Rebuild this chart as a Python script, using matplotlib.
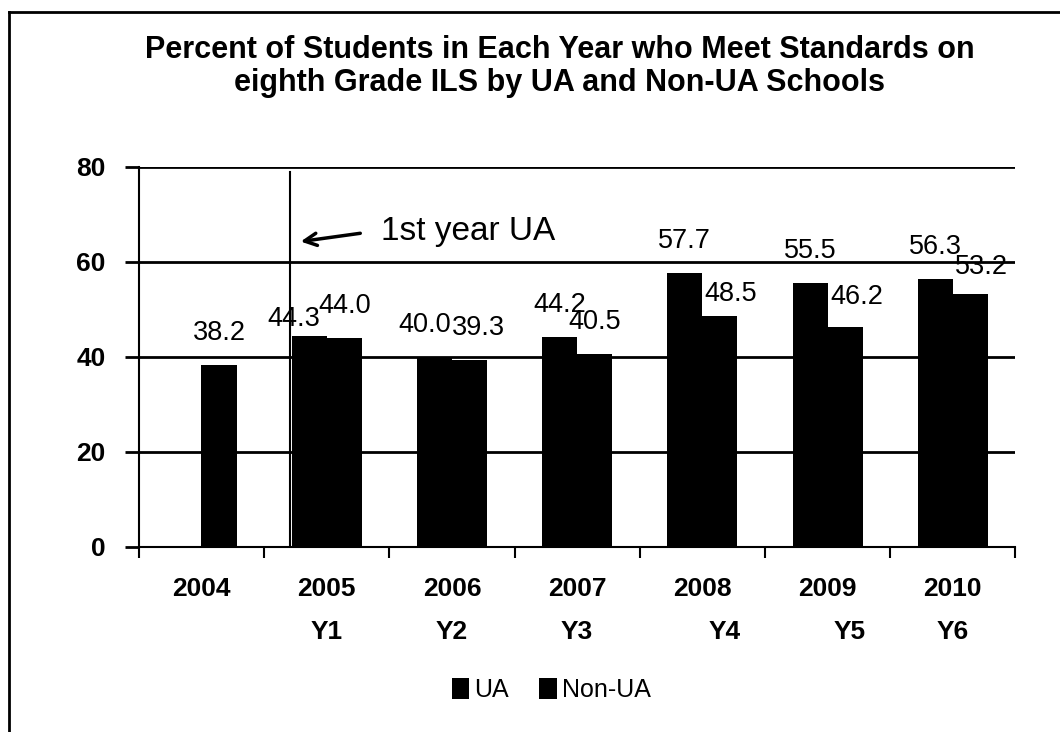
import numpy as np
import matplotlib
matplotlib.use("Agg")
import matplotlib.pyplot as plt
from matplotlib.patches import Patch
from matplotlib.lines import Line2D
import matplotlib.transforms as mtransforms

plt.rcParams['font.family'] = ['Liberation Sans', 'DejaVu Sans']

#------------------------------------ chart data
years = ["2004", "2005", "2006", "2007", "2008", "2009", "2010"]
ylabels = ["", "Y1", "Y2", "Y3", "Y4", "Y5", "Y6"]
ua = [np.nan, 44.3, 40.0, 44.2, 57.7, 55.5, 56.3]
non_ua = [38.2, 44.0, 39.3, 40.5, 48.5, 46.2, 53.2]

#------------------------------------ label nudges (px), Excel-ish overlap
ua_nudge = {1: (-15, -15), 2: (-10, 0)}
non_nudge = {2: (9, 0), 4: (11, -10), 5: (12, -2), 6: (11, -5)}
ylab_nudge = {4: 22, 5: 22}

fig = plt.figure(figsize=(10.6, 7.32), dpi=100)
ax = fig.add_axes([0.131, 0.253, 0.827, 0.519])

xpos = np.arange(len(years))
bw = 0.28
ax.bar(xpos - bw/2, ua, bw, color="black", zorder=3)
ax.bar(xpos + bw/2, non_ua, bw, color="black", zorder=3)

ax.set_xlim(-0.5, len(years) - 0.5)
ax.set_ylim(0, 80)
ax.set_yticks([0, 20, 40, 60, 80])
ax.yaxis.grid(True, color="black", linewidth=2, zorder=1)
ax.set_axisbelow(True)

for s in ["top", "right"]:
    ax.spines[s].set_visible(False)
ax.spines["left"].set_linewidth(1.5)
ax.spines["bottom"].set_linewidth(1.5)

ax.set_xticks(xpos)
ax.set_xticklabels(years, fontsize=19, fontweight="bold")
ax.set_xticks(np.arange(-0.5, len(years)), minor=True)
ax.tick_params(axis="x", which="major", length=0, pad=22)
ax.tick_params(axis="x", which="minor", length=8, width=1.5, direction="out")
ax.tick_params(axis="y", length=10, width=2, pad=14, labelsize=19)
for t in ax.get_yticklabels():
    t.set_fontweight("bold")

# second row of category labels
trans = mtransforms.blended_transform_factory(ax.transData, ax.transAxes)
for i, lab in enumerate(ylabels):
    if not lab:
        continue
    off = mtransforms.offset_copy(trans, fig=fig, x=ylab_nudge.get(i, 0) * 0.72, units="points")
    ax.text(xpos[i], -0.225, lab, transform=off, ha="center", va="center",
            fontsize=19, fontweight="bold")

# data labels
def put_labels(vals, shift, nudge):
    for i, v in enumerate(vals):
        if np.isnan(v):
            continue
        dx, dy = nudge.get(i, (0, 0))
        ax.annotate(f"{v:.1f}", (xpos[i] + shift, v),
                    xytext=(dx * 0.72, (32 + dy) * 0.72), textcoords="offset points",
                    ha="center", va="center", fontsize=19.5, zorder=5)

put_labels(ua, -bw/2, ua_nudge)
put_labels(non_ua, bw/2, non_nudge)

# first-year marker
ax.plot([0.71, 0.71], [0, 79], color="black", linewidth=1.5, zorder=4)
ax.annotate("", xy=(0.77, 64.2), xytext=(1.29, 66.1),
            arrowprops=dict(arrowstyle="->", color="black", lw=2.5,
                            mutation_scale=22))
ax.text(1.43, 66.3, "1st year UA", fontsize=24, ha="left", va="center")

fig.text(0.528, 0.909, "Percent of Students in Each Year who Meet Standards on\n"
         "eighth Grade ILS by UA and Non-UA Schools",
         ha="center", va="center", fontsize=22, fontweight="bold", linespacing=1.1)

handles = [Patch(facecolor="black"), Patch(facecolor="black")]
fig.legend(handles, ["UA", "Non-UA"], loc="center", bbox_to_anchor=(0.52, 0.057),
           ncol=2, frameon=False, fontsize=18, handlelength=0.7, handleheight=0.9,
           handletextpad=0.2, columnspacing=1.2)

# outer frame
fig.add_artist(Line2D([9/1060, 1.0], [1 - 12/732, 1 - 12/732], color="black", lw=2,
                      transform=fig.transFigure))
fig.add_artist(Line2D([9/1060, 9/1060], [0.0, 1 - 12/732], color="black", lw=2,
                      transform=fig.transFigure))

fig.savefig("out.png", dpi=100)
